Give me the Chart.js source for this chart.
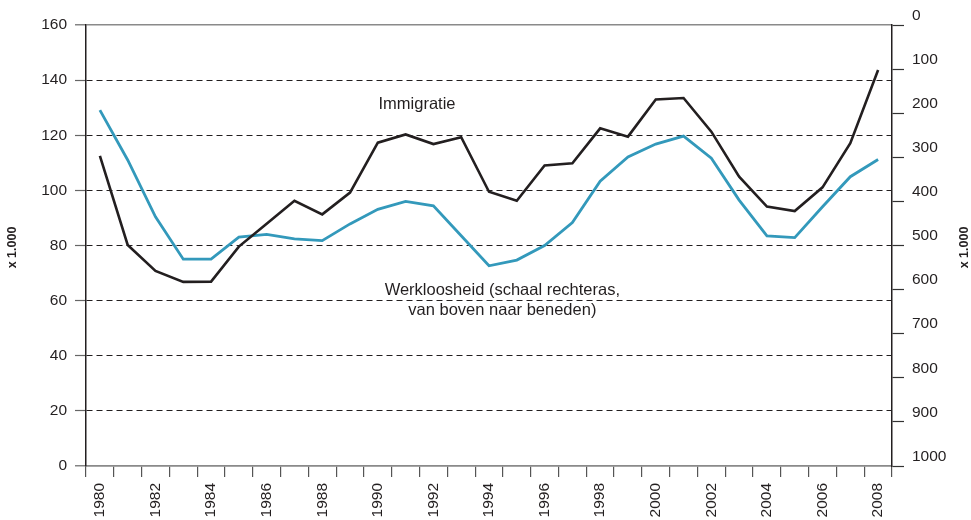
<!DOCTYPE html>
<html lang="nl">
<head>
<meta charset="utf-8">
<title>Immigratie en werkloosheid</title>
<script src="https://cdn.jsdelivr.net/npm/chart.js@4.4.1/dist/chart.umd.min.js"></script>
<style>
    html, body { margin: 0; padding: 0; background: #fff; }
    #wrap { width: 971px; height: 520px; position: relative; }
</style>
</head>
<body>
<div id="wrap"><canvas id="chart"></canvas></div>
<script>
// jaren op de x-as
const years = ['1980', '1981', '1982', '1983', '1984', '1985', '1986', '1987', '1988', '1989',
    '1990', '1991', '1992', '1993', '1994', '1995', '1996', '1997', '1998', '1999',
    '2000', '2001', '2002', '2003', '2004', '2005', '2006', '2007', '2008'];

// immigratie, x 1.000 (linkeras)
const immigratie = [112.5, 80.2, 70.8, 66.8, 66.9, 79.6, 87.9, 96.2, 91.3, 99.2,
    117.3, 120.3, 116.8, 119.3, 99.5, 96.2, 109.0, 109.8, 122.5, 119.5,
    133.0, 133.5, 121.3, 105.0, 94.1, 92.5, 101.1, 117.1, 143.7];

// werkloosheid, x 1.000 (rechteras, omgekeerd)
const werkloosheid = [193, 306, 435, 531, 531, 481, 475, 485, 489, 451,
    418, 400, 410, 478, 546, 533, 500, 448, 354, 299,
    270, 252, 302, 397, 478, 482, 412, 344, 305];

// tick labels
const leftTicks = [0, 20, 40, 60, 80, 100, 120, 140, 160];
const rightTicks = [0, 100, 200, 300, 400, 500, 600, 700, 800, 900, 1000];

// teksten in de grafiek: positie in jaar-index en waarde op linkeras
const noteImmigratie = { lines: ['Immigratie'], at: 11.41, value: 131 };
const noteWerkloosheid = { lines: ['Werkloosheid (schaal rechteras,', 'van boven naar beneden)'], at: 14.48, value: 60.2 };

const FONT = '"Liberation Sans", Arial, Helvetica, sans-serif';
const TEXT = '#231f20';

const textPlugin = {
    id: 'texts',
    afterDraw(chart) {
        const ctx = chart.ctx;
        const x = chart.scales.x;
        const y = chart.scales.y;

        ctx.save();
        ctx.fillStyle = TEXT;
        ctx.textAlign = 'center';
        ctx.textBaseline = 'middle';
        ctx.font = '16.5px ' + FONT;
        [noteImmigratie, noteWerkloosheid].forEach(n => {
            const cx = x.getPixelForValue(n.at);
            const cy = y.getPixelForValue(n.value);
            const lh = 20;
            n.lines.forEach((line, i) => {
                ctx.fillText(line, cx, cy + (i - (n.lines.length - 1) / 2) * lh);
            });
        });

        // aslabels "x 1.000" links en rechts
        ctx.font = 'bold 12.5px ' + FONT;
        const midY = (chart.chartArea.top + chart.chartArea.bottom) / 2 + 2;
        [13, chart.width - 6].forEach(px => {
            ctx.save();
            ctx.translate(px, midY);
            ctx.rotate(-Math.PI / 2);
            ctx.fillText('x 1.000', 0, 0);
            ctx.restore();
        });
        ctx.restore();
    }
};

new Chart(document.getElementById('chart'), {
    type: 'line',
    data: {
        labels: years,
        datasets: [
            {
                label: 'Immigratie',
                data: immigratie,
                yAxisID: 'y',
                borderColor: '#231f20',
                borderWidth: 2.6,
                pointRadius: 0,
                tension: 0,
                fill: false
            },
            {
                label: 'Werkloosheid',
                data: werkloosheid,
                yAxisID: 'y2',
                borderColor: '#3399bb',
                borderWidth: 2.8,
                pointRadius: 0,
                tension: 0,
                fill: false
            }
        ]
    },
    options: {
        responsive: true,
        maintainAspectRatio: false,
        animation: false,
        layout: { padding: { top: 25, left: 0, right: 0, bottom: 0 } },
        plugins: {
            legend: { display: false },
            tooltip: { enabled: false }
        },
        scales: {
            x: {
                type: 'category',
                offset: true,
                grid: {
                    offset: true,
                    drawOnChartArea: false,
                    drawTicks: true,
                    tickLength: 11,
                    tickColor: '#555',
                    lineWidth: 1.2
                },
                border: { display: true, color: '#8a8a8a', width: 1.6 },
                ticks: {
                    autoSkip: false,
                    minRotation: 90,
                    maxRotation: 90,
                    padding: 6,
                    color: TEXT,
                    font: { family: FONT, size: 15.5 },
                    callback(value, index) {
                        const yr = years[index];
                        return Number(yr) % 2 === 0 ? yr : '';
                    }
                },
                afterFit(scale) { scale.height = 54; }
            },
            y: {
                position: 'left',
                min: 0,
                max: 160,
                afterBuildTicks(scale) { scale.ticks = leftTicks.map(v => ({ value: v })); },
                grid: {
                    drawTicks: true,
                    tickLength: 11,
                    lineWidth: ctx => (ctx.tick && (ctx.tick.value === 0 || ctx.tick.value === 160)) ? 1.6 : 1,
                    color: ctx => (ctx.tick && (ctx.tick.value === 0 || ctx.tick.value === 160)) ? '#8a8a8a' : '#231f20',
                    tickColor: '#666',
                    tickWidth: 1.2
                },
                border: {
                    display: true,
                    color: '#231f20',
                    width: 1.5,
                    dash: ctx => (ctx.tick && ctx.tick.value !== 0 && ctx.tick.value !== 160) ? [6, 4] : []
                },
                ticks: {
                    padding: 8,
                    color: TEXT,
                    font: { family: FONT, size: 15.5 },
                    callback: v => String(v)
                },
                afterFit(scale) { scale.width = 86; }
            },
            y2: {
                position: 'right',
                min: 0,
                max: 1000,
                reverse: true,
                afterBuildTicks(scale) { scale.ticks = rightTicks.map(v => ({ value: v })); },
                grid: {
                    drawOnChartArea: false,
                    drawTicks: true,
                    tickLength: 12,
                    tickColor: '#333',
                    tickWidth: 1.2
                },
                border: { display: true, color: '#231f20', width: 1.5 },
                ticks: {
                    padding: 8,
                    labelOffset: -9.5,
                    color: TEXT,
                    font: { family: FONT, size: 15.5 },
                    callback: v => String(v)
                },
                afterFit(scale) { scale.width = 79; }
            }
        }
    },
    plugins: [textPlugin]
});
</script>
</body>
</html>
